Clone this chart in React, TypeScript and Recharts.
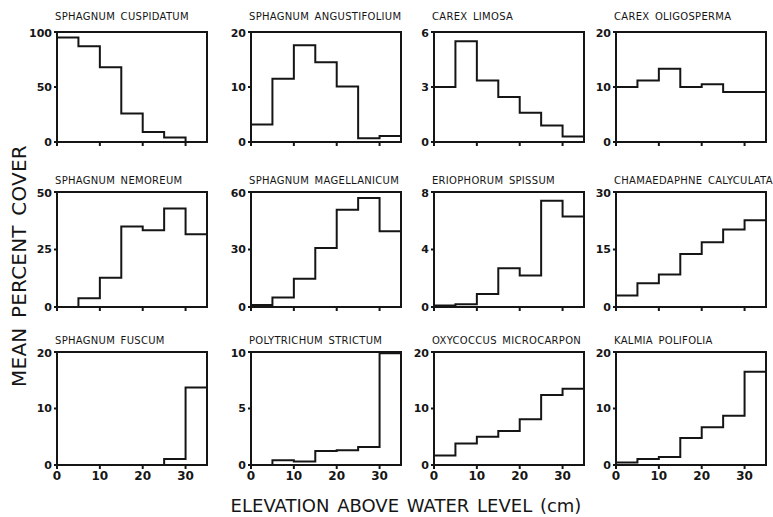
import { LineChart, Line, XAxis, YAxis, ReferenceArea } from "recharts";

// bin starts (cm above water level); each bin is 5 cm wide
const binStarts = [0, 5, 10, 15, 20, 25, 30];
const binEnd = 35;
const xTicks = [0, 10, 20, 30];

const sphagnumCuspidatum = [95, 87, 68, 26, 9, 4, 0];
const sphagnumAngustifolium = [3.2, 11.5, 17.6, 14.5, 10.1, 0.7, 1.1];
const carexLimosa = [3.0, 5.5, 3.35, 2.45, 1.6, 0.9, 0.3];
const carexOligosperma = [10, 11.2, 13.3, 10, 10.5, 9.1, 9.1];
const sphagnumNemoreum = [0, 3.8, 12.7, 35, 33.4, 42.8, 31.6];
const sphagnumMagellanicum = [1, 5, 14.8, 30.8, 50.8, 56.9, 39.5];
const eriophorumSpissum = [0.1, 0.2, 0.9, 2.7, 2.2, 7.4, 6.3];
const chamaedaphneCalyculata = [3.0, 6.2, 8.5, 13.8, 16.9, 20.2, 22.6];
const sphagnumFuscum = [0, 0, 0, 0, 0, 1.05, 13.7];
const polytrichumStrictum = [0, 0.43, 0.3, 1.24, 1.3, 1.6, 9.9];
const oxycoccusMicrocarpon = [1.7, 3.8, 5.0, 6.0, 8.1, 12.4, 13.5];
const kalmiaPolifolia = [0.45, 1.06, 1.4, 4.8, 6.7, 8.7, 16.5];

const titles = [
  "SPHAGNUM CUSPIDATUM",
  "SPHAGNUM ANGUSTIFOLIUM",
  "CAREX LIMOSA",
  "CAREX OLIGOSPERMA",
  "SPHAGNUM NEMOREUM",
  "SPHAGNUM MAGELLANICUM",
  "ERIOPHORUM SPISSUM",
  "CHAMAEDAPHNE CALYCULATA",
  "SPHAGNUM FUSCUM",
  "POLYTRICHUM STRICTUM",
  "OXYCOCCUS MICROCARPON",
  "KALMIA POLIFOLIA",
];

const series = [
  sphagnumCuspidatum,
  sphagnumAngustifolium,
  carexLimosa,
  carexOligosperma,
  sphagnumNemoreum,
  sphagnumMagellanicum,
  eriophorumSpissum,
  chamaedaphneCalyculata,
  sphagnumFuscum,
  polytrichumStrictum,
  oxycoccusMicrocarpon,
  kalmiaPolifolia,
];

const yMaxes = [100, 20, 6, 20, 50, 60, 8, 30, 20, 10, 20, 20];

// layout
const colLeft = [57, 251, 434, 616];
const colWidth = 150;
const rowTop = [32, 192, 352];
const rowHeight = [110, 115, 113];
const titleY = [11, 175, 335];

const AXIS_W = 40;
const TOP_PAD = 5;
const RIGHT_PAD = 5;
const X_AXIS_H = 22;
const ink = "#151515";
const font = "'DejaVu Sans', sans-serif";

function Panel({ idx }: { idx: number }) {
  const row = Math.floor(idx / 4);
  const col = idx % 4;
  const values = series[idx];
  const yMax = yMaxes[idx];
  const data = binStarts.map((x, i) => ({ x, v: values[i] }));
  data.push({ x: binEnd, v: values[values.length - 1] });
  const showX = row === 2;
  const plotH = rowHeight[row];

  return (
    <>
      <div
        style={{
          position: "absolute",
          left: colLeft[col] - 2,
          top: titleY[row],
          fontFamily: font,
          fontSize: 10,
          lineHeight: "12px",
          letterSpacing: 0.3,
          wordSpacing: 2,
          color: ink,
          whiteSpace: "nowrap",
        }}
      >
        {titles[idx]}
      </div>
      <div
        style={{
          position: "absolute",
          left: colLeft[col] - AXIS_W,
          top: rowTop[row] - TOP_PAD,
        }}
      >
        <LineChart
          width={AXIS_W + colWidth + RIGHT_PAD}
          height={TOP_PAD + plotH + X_AXIS_H}
          data={data}
          margin={{ top: TOP_PAD, right: RIGHT_PAD, bottom: 0, left: 0 }}
        >
          <XAxis
            type="number"
            dataKey="x"
            domain={[0, binEnd]}
            ticks={xTicks}
            allowDataOverflow
            height={X_AXIS_H}
            tickSize={4}
            stroke={ink}
            strokeWidth={2}
            tickFormatter={(t: number) => (showX ? String(t) : "")}
            tick={{ fill: ink, fontSize: 12, fontFamily: font, fontWeight: 600 }}
          />
          <YAxis
            type="number"
            domain={[0, yMax]}
            ticks={[0, yMax / 2, yMax]}
            allowDataOverflow
            width={AXIS_W}
            tickSize={3}
            stroke={ink}
            strokeWidth={2}
            tick={{ fill: ink, fontSize: 11, fontFamily: font, fontWeight: 600 }}
          />
          <ReferenceArea
            x1={0}
            x2={binEnd}
            y1={0}
            y2={yMax}
            fill="none"
            stroke={ink}
            strokeWidth={2}
            ifOverflow="visible"
          />
          <Line
            type="stepAfter"
            dataKey="v"
            stroke={ink}
            strokeWidth={2}
            dot={false}
            isAnimationActive={false}
          />
        </LineChart>
      </div>
    </>
  );
}

export default function App() {
  return (
    <div
      style={{
        position: "absolute",
        left: 0,
        top: 0,
        width: 773,
        height: 517,
        background: "#fff",
        overflow: "hidden",
      }}
    >
      {titles.map((_, i) => (
        <Panel key={i} idx={i} />
      ))}
      <div
        style={{
          position: "absolute",
          left: 19,
          top: 266,
          transform: "translate(-50%, -50%) rotate(-90deg)",
          fontFamily: font,
          fontSize: 20,
          letterSpacing: 0.2,
          wordSpacing: 3,
          color: ink,
          whiteSpace: "nowrap",
        }}
      >
        MEAN PERCENT COVER
      </div>
      <div
        style={{
          position: "absolute",
          left: 406,
          top: 505,
          transform: "translate(-50%, -50%)",
          fontFamily: font,
          fontSize: 18,
          letterSpacing: 0,
          wordSpacing: 2,
          color: ink,
          whiteSpace: "nowrap",
        }}
      >
        ELEVATION ABOVE WATER LEVEL (cm)
      </div>
    </div>
  );
}
